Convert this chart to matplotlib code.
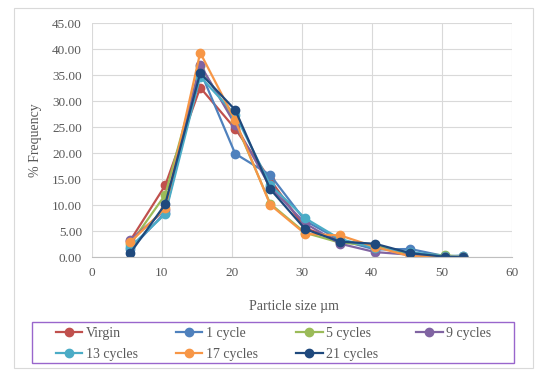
import matplotlib
matplotlib.use("Agg")
import matplotlib.pyplot as plt
from matplotlib.patches import Rectangle

# particle size bins (um)
sizes = [5.5, 10.5, 15.5, 20.5, 25.5, 30.5, 35.5, 40.5, 45.5, 50.5, 53.0]

# % frequency per cycle count
virgin = [3.2, 13.8, 32.6, 24.7, 14.9, 5.6, 3.2, 2.2, 0.6, 0.2, 0.1]
cycle_1 = [1.5, 8.6, 35.8, 19.9, 15.8, 7.0, 3.3, 1.5, 1.6, 0.2, 0.3]
cycles_5 = [2.5, 12.0, 36.7, 26.0, 10.3, 4.7, 2.8, 2.3, 0.6, 0.4, 0.1]
cycles_9 = [3.3, 9.1, 37.0, 25.5, 13.5, 6.5, 2.6, 1.0, 0.5, 0.1, 0.1]
cycles_13 = [2.0, 8.3, 34.7, 27.4, 13.9, 7.5, 3.5, 1.8, 1.0, 0.2, 0.3]
cycles_17 = [2.9, 9.4, 39.3, 26.3, 10.1, 4.5, 4.2, 2.0, 0.2, 0.1, 0.1]
cycles_21 = [0.8, 10.2, 35.4, 28.3, 13.1, 5.4, 3.0, 2.6, 0.8, 0.1, 0.0]

labels = ["Virgin", "1 cycle", "5 cycles", "9 cycles", "13 cycles", "17 cycles", "21 cycles"]
series = [virgin, cycle_1, cycles_5, cycles_9, cycles_13, cycles_17, cycles_21]
colors = ["#C0504D", "#4F81BD", "#9BBB59", "#8064A2", "#4BACC6", "#F79646", "#1F497D"]

plt.rcParams["font.family"] = ["Liberation Serif", "DejaVu Serif"]
txt = "#595959"
W, H = 551, 379

fig = plt.figure(figsize=(5.51, 3.79), dpi=100)
ax = fig.add_axes([91.7 / W, 121.7 / H, 420 / W, 234.3 / H])

handles = []
for lab, vals, c in zip(labels, series, colors):
    h, = ax.plot(sizes, vals, color=c, lw=1.6, marker="o", ms=6, label=lab)
    handles.append(h)

ax.set_xlim(0, 60)
ax.set_ylim(0, 45)
ax.set_xticks(range(0, 61, 10))
ax.set_yticks(range(0, 46, 5))
ax.set_yticklabels([f"{v:.2f}" for v in range(0, 46, 5)])
ax.grid(True, color="#D9D9D9", lw=0.8)
ax.set_axisbelow(True)
for s in ["top", "right", "left"]:
    ax.spines[s].set_visible(False)
ax.spines["bottom"].set_color("#BFBFBF")
ax.tick_params(length=0, labelsize=9.5, colors=txt, pad=7)
ax.set_xlabel("Particle size µm", fontsize=10, color=txt)
ax.xaxis.set_label_coords((294 - 91.7) / 420, -(300 - 257.3) / 234.3)
ax.yaxis.label.set_verticalalignment("center")
ax.set_ylabel("% Frequency", fontsize=10, color=txt)
ax.yaxis.set_label_coords(-(91.7 - 36) / 420, 0.5)

# legend frame
fig.patches.append(Rectangle((32 / W, 1 - 363 / H), 482 / W, 41 / H,
                             transform=fig.transFigure, fill=False,
                             edgecolor="#9966CC", lw=1.0))

# legend filled row by row
order = [0, 4, 1, 5, 2, 6, 3]
leg = fig.legend([handles[i] for i in order], [labels[i] for i in order],
                 ncol=4, loc="upper left",
                 bbox_to_anchor=(56 / W, 1 - 327 / H),
                 fontsize=10, frameon=False, borderaxespad=0, borderpad=0,
                 handlelength=1.9, handletextpad=0.25, labelspacing=0.6,
                 columnspacing=2.75, labelcolor=txt)

# outer chart border
fig.patches.append(Rectangle((14 / W, 11 / H), 519 / W, 360 / H,
                             transform=fig.transFigure, fill=False,
                             edgecolor="#D9D9D9", lw=0.8))

fig.savefig("out.png", dpi=100)
